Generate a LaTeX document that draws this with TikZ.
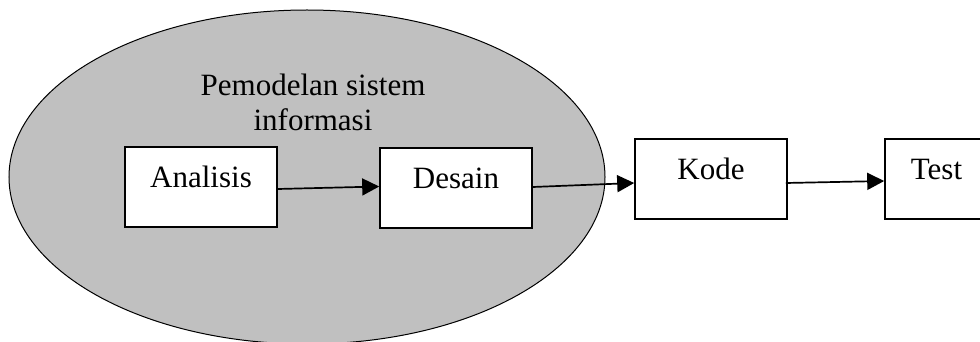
\documentclass[tikz,border=0pt]{standalone}
\usepackage{fontspec}
\setmainfont{Liberation Serif}
\usetikzlibrary{arrows.meta,calc,shapes.geometric}
\begin{document}
\begin{tikzpicture}[x=1pt,y=-1pt,
  stepbox/.style={draw=black, line width=1.6pt, fill=white, rectangle, inner sep=0pt,
    minimum width=152pt, minimum height=80pt, text height=20pt, text depth=20pt,
    font=\fontsize{31}{37}\selectfont},
  conn/.style={draw=black, line width=1.7pt, -{Triangle[length=17pt,width=17pt]}}
]
\clip (0,0) rectangle (980,342);
\fill[white] (0,0) rectangle (980,342);
\node[draw=black, line width=1pt, fill={rgb,255:red,192;green,192;blue,192}, ellipse,
  minimum width=596pt, minimum height=334pt, inner sep=0pt] (ell) at (307,177) {};
\node[align=center, inner sep=0pt, font=\fontsize{31}{35}\selectfont, anchor=north] (title) at (313,74) {Pemodelan sistem\\informasi};
\node[stepbox] (ana) at (201,187) {Analisis};
\node[stepbox] (des) at (456,188) {Desain};
\node[stepbox] (kode) at (711,179) {Kode};
\node[stepbox, minimum width=103pt] (test) at (936.5,179) {Test};
\draw[conn] ($(ana.east)+(0,2)$) -- ($(des.west)+(0,-1.5)$);
\draw[conn] ($(des.east)+(0,-1)$) -- ($(kode.west)+(0,4)$);
\draw[conn] ($(kode.east)+(-2,4)$) -- ($(test.west)+(0,2)$);
\end{tikzpicture}
\end{document}
